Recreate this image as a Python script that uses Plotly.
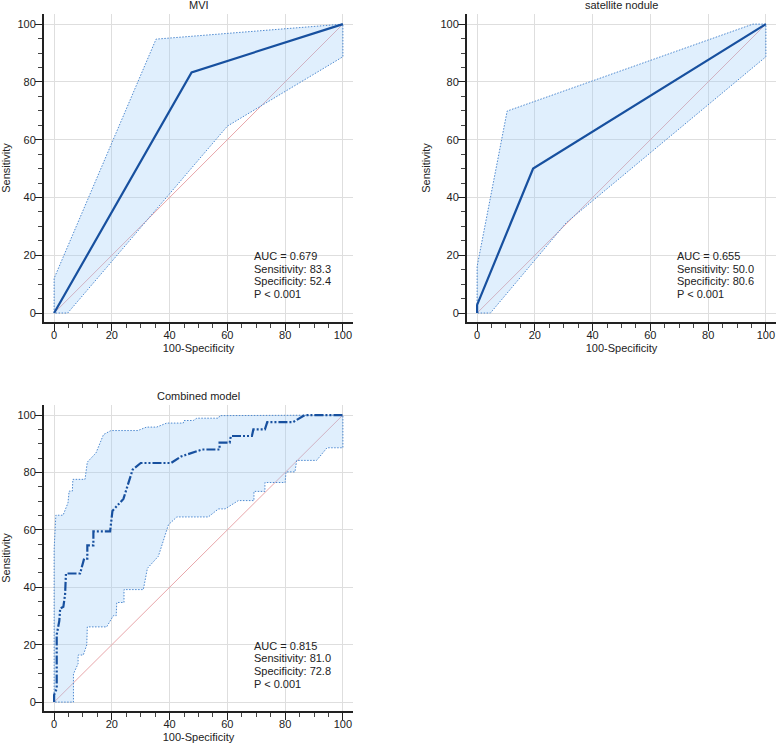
import plotly.graph_objects as go

# ---- data (x = 100-Specificity, y = Sensitivity) ----
# MVI
mvi_fpr = [0, 47.6, 100]
mvi_tpr = [0, 83.3, 100]
mvi_upper_x = [0, 0, 35.3, 100]
mvi_upper_y = [0, 12.0, 94.8, 100]
mvi_lower_x = [0, 4.7, 60.0, 100, 100]
mvi_lower_y = [0, 0, 64.7, 88.7, 100]
mvi_stats = ["AUC = 0.679", "Sensitivity: 83.3", "Specificity: 52.4", "P < 0.001"]

# satellite nodule
sat_fpr = [0, 0, 19.4, 100]
sat_tpr = [0, 2.8, 50.0, 100]
sat_upper_x = [0, 0, 10.4, 95.5, 100]
sat_upper_y = [0, 16.1, 69.9, 100, 100]
sat_lower_x = [0, 4.6, 30.9, 100, 100]
sat_lower_y = [0, 0, 31.3, 88.7, 100]
sat_stats = ["AUC = 0.655", "Sensitivity: 50.0", "Specificity: 80.6", "P < 0.001"]

# Combined model
comb_fpr = [0, 0, 0.9, 0.9, 1.8, 2.1, 3.2, 3.8, 4.1, 9.0, 10.4, 11.5, 11.5, 13.6, 13.6,
            19.4, 20.2, 24.0, 27.2, 30.0, 40.5, 44.0, 51.3, 57.3, 57.3, 60.8, 61.2, 68.5,
            69.0, 73.0, 73.8, 82.7, 86.8, 100]
comb_tpr = [0, 2.5, 4.7, 23.5, 28.3, 32.6, 33.2, 37.5, 44.8, 44.8, 50.0, 50.0, 54.6, 54.6,
            59.5, 59.5, 66.6, 70.8, 81.0, 83.3, 83.3, 85.6, 88.0, 88.0, 90.4, 90.4, 92.7,
            92.7, 95.0, 95.0, 97.5, 97.5, 100, 100]
comb_upper_x = [0, 0, 0.6, 3.1, 4.8, 5.2, 6.3, 6.5, 10.7, 11.5, 14.5, 17.1, 19.7, 29.0,
                32.0, 35.5, 39.0, 44.7, 45.0, 48.2, 49.4, 56.9, 57.4, 100]
comb_upper_y = [0, 53.1, 65.1, 65.1, 69.4, 73.5, 73.5, 77.6, 77.6, 83.6, 86.8, 93.2, 94.6,
                94.6, 95.8, 95.8, 97.2, 97.2, 98.1, 98.1, 98.9, 98.9, 99.8, 100]
comb_lower_x = [0, 6.7, 6.7, 8.3, 8.3, 10.1, 11.3, 11.5, 18.2, 20.5, 21.5, 21.7, 24.2, 24.2,
                30.9, 31.7, 32.3, 36.1, 39.6, 42.5, 53.4, 56.9, 59.2, 63.8, 69.2, 69.2,
                73.0, 73.0, 80.0, 80.3, 83.4, 84.0, 90.9, 94.5, 100, 100]
comb_lower_y = [0, 0, 9.8, 13.4, 16.4, 16.4, 19.9, 26.2, 26.2, 30.1, 30.1, 34.7, 34.7, 39.2,
                39.2, 43.9, 46.6, 50.8, 61.8, 64.5, 64.5, 67.3, 67.3, 70.2, 70.2, 73.4,
                73.4, 76.5, 76.5, 80.2, 80.2, 84.2, 84.2, 88.6, 88.6, 100]
comb_stats = ["AUC = 0.815", "Sensitivity: 81.0", "Specificity: 72.8", "P < 0.001"]

W, H = 777, 745
FONT = "Liberation Sans, Arial, sans-serif"
TXT = "#222222"
ROC_COLOR = "#17509f"
CI_COLOR = "#4f8ad0"
FILL = "rgba(160,205,250,0.32)"
DIAG = "#e8a6aa"

panels = [
    # title, fpr, tpr, upper, lower, stats, x px, y px (top, bottom), roc dash
    ("MVI", mvi_fpr, mvi_tpr, (mvi_upper_x, mvi_upper_y), (mvi_lower_x, mvi_lower_y),
     mvi_stats, (44, 353), (14, 322), "solid"),
    ("satellite nodule", sat_fpr, sat_tpr, (sat_upper_x, sat_upper_y), (sat_lower_x, sat_lower_y),
     sat_stats, (467, 776), (14, 322), "solid"),
    ("Combined model", comb_fpr, comb_tpr, (comb_upper_x, comb_upper_y), (comb_lower_x, comb_lower_y),
     comb_stats, (44, 353), (405, 711), "9px,2px,2px,2px,2px,2px"),
]

fig = go.Figure()
annotations = []

for i, (title, fpr, tpr, up, lo, stats, xpx, ypx, dash) in enumerate(panels, start=1):
    xa = "x" if i == 1 else f"x{i}"
    ya = "y" if i == 1 else f"y{i}"

    # reference diagonal
    fig.add_trace(go.Scatter(x=[0, 100], y=[0, 100], mode="lines", xaxis=xa, yaxis=ya,
                             line=dict(color=DIAG, width=1), hoverinfo="skip", showlegend=False))
    # confidence band
    band_x = list(up[0]) + list(lo[0])[::-1]
    band_y = list(up[1]) + list(lo[1])[::-1]
    fig.add_trace(go.Scatter(x=band_x, y=band_y, mode="lines", fill="toself", fillcolor=FILL,
                             xaxis=xa, yaxis=ya, line=dict(color=CI_COLOR, width=1, dash="1.5px,1.5px"),
                             hoverinfo="skip", showlegend=False))
    # ROC curve
    fig.add_trace(go.Scatter(x=fpr, y=tpr, mode="lines", xaxis=xa, yaxis=ya,
                             line=dict(color=ROC_COLOR, width=2.2, dash=dash),
                             showlegend=False))

    axis_common = dict(
        tickmode="linear", tick0=0, dtick=20, ticks="outside", ticklen=7, tickwidth=1,
        tickcolor="#222", showline=True, linewidth=2, linecolor="#222", mirror=False,
        showgrid=True, gridcolor="#dedede", gridwidth=1, zeroline=False,
        minor=dict(tick0=0, dtick=5, ticks="outside", ticklen=4, tickcolor="#444", showgrid=False),
        tickfont=dict(size=11, color=TXT, family=FONT), automargin=False,
    )
    fig.layout[f"xaxis{'' if i == 1 else i}"] = dict(
        axis_common, range=[-3.5, 103.5], domain=[xpx[0] / W, xpx[1] / W], anchor=ya,
        ticklabelstandoff=-5,
        title=dict(text="100-Specificity", font=dict(size=11, color=TXT, family=FONT), standoff=4),
    )
    fig.layout[f"yaxis{'' if i == 1 else i}"] = dict(
        axis_common, range=[-3.1, 103.5], domain=[1 - ypx[1] / H, 1 - ypx[0] / H], anchor=xa,
        ticklabelstandoff=-3,
        title=dict(text="Sensitivity", font=dict(size=11, color=TXT, family=FONT), standoff=8),
    )

    annotations.append(dict(text=title, xref="paper", yref="paper",
                            x=(xpx[0] + xpx[1]) / 2 / W, y=1 - (ypx[0] - 9) / H,
                            xanchor="center", yanchor="middle", showarrow=False,
                            font=dict(size=11, color=TXT, family=FONT)))
    for k, line in enumerate(stats):
        annotations.append(dict(text=line, xref=xa, yref=ya, x=68.5, y=22.5,
                                xanchor="left", yanchor="top", yshift=-12.7 * k,
                                showarrow=False, align="left",
                                font=dict(size=11, color=TXT, family=FONT)))

fig.update_layout(
    width=W, height=H, margin=dict(l=0, r=0, t=0, b=0),
    paper_bgcolor="white", plot_bgcolor="white", template="none",
    font=dict(family=FONT, size=11, color=TXT),
    annotations=annotations, showlegend=False,
)

# the page's default body margin would shift the figure by 8px
fig.write_html("out.html", config={"displayModeBar": False},
               post_script="document.body.style.margin='0px';")
